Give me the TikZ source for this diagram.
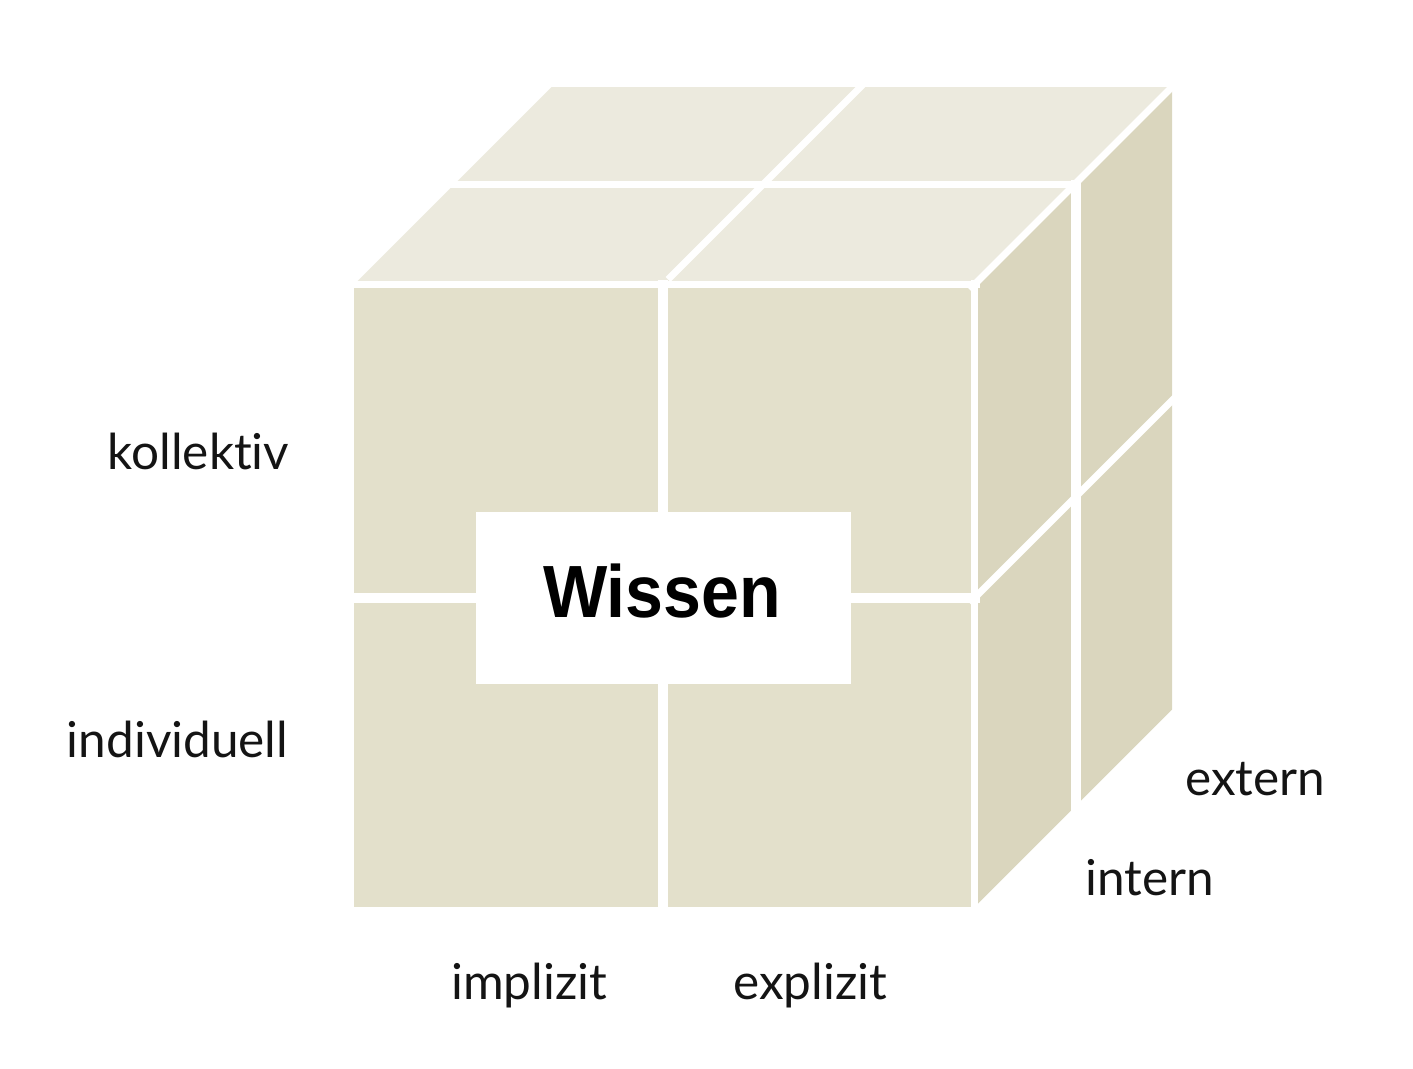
\documentclass[tikz,border=0pt]{standalone}
\usepackage{fontspec}
\setmainfont{Lato}[RawFeature={-liga;-calt;-clig}]
\newfontfamily\boldsans{Liberation Sans}[BoldFont={Liberation Sans Bold}]
\definecolor{topc}{RGB}{236,234,222}
\definecolor{frontc}{RGB}{227,224,203}
\definecolor{rightc}{RGB}{218,214,190}
\definecolor{txt}{RGB}{20,20,20}
\tikzset{
  gap/.style={draw=white,line width=10pt,line cap=butt},
  edgegap/.style={draw=white,line width=7pt,line cap=butt},
  lbl/.style={inner sep=0pt,text=txt,font=\fontsize{49.5}{58}\selectfont},
}
\begin{document}
\begin{tikzpicture}[x=1pt,y=-1pt]
\useasboundingbox (0,0) rectangle (1413,1068);
% corner coordinates
\coordinate (FTL) at (354,284.5);
\coordinate (FTR) at (974.5,284.5);
\coordinate (FBR) at (974.5,907);
\coordinate (FBL) at (354,907);
\coordinate (BTL) at (551.5,87);
\coordinate (BTR) at (1172,87);
\coordinate (BBR) at (1172,709.5);
% faces
\fill[frontc] (FTL) -- (FTR) -- (FBR) -- (FBL) -- cycle;
\fill[topc] (FTL) -- (FTR) -- (BTR) -- (BTL) -- cycle;
\fill[rightc] (FTR) -- (BTR) -- (BBR) -- (FBR) -- cycle;
% front face gaps
\draw[gap] (663,280) -- (663,912);
\draw[gap] (345,598) -- (980,598);
% top face gaps
\draw[edgegap] (445,184) -- (1080,184);
\draw[edgegap] (668,279.5) -- (865.5,82);
% right face gaps
\draw[gap] (1076,180) -- (1076,815);
\draw[edgegap] (969.5,603) -- (1177,395.5);
% face edges
\draw[edgegap] (345,284.5) -- (980,284.5);
\draw[edgegap] (974.5,280) -- (974.5,912);
\draw[edgegap] (969.5,289.5) -- (1177,82);
% central box
\node[fill=white,minimum width=375pt,minimum height=172pt,inner sep=0pt] (box) at (663.5,598) {};
\node[inner sep=0pt,anchor=base,text=black] (wissen) at (662,617)
  {\scalebox{0.92}[1]{\boldsans\bfseries\fontsize{74}{80}\selectfont Wissen}};
% labels
\node[lbl,anchor=base east] (kollektiv) at (289.5,469) {kollektiv};
\node[lbl,anchor=base east] (individuell) at (288.5,757) {individuell};
\node[lbl,anchor=base west] (implizit) at (451,999) {implizit};
\node[lbl,anchor=base west] (explizit) at (733,999) {explizit};
\node[lbl,anchor=base west] (extern) at (1185,795) {extern};
\node[lbl,anchor=base west] (intern) at (1085,895) {intern};
\end{tikzpicture}
\end{document}
